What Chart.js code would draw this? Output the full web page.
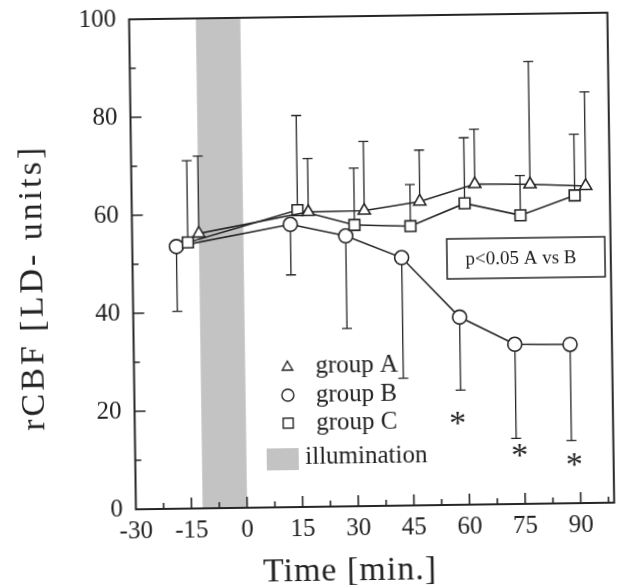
<!DOCTYPE html>
<html>
<head>
<meta charset="utf-8">
<script src="https://cdn.jsdelivr.net/npm/chart.js@4.4.0/dist/chart.umd.min.js"></script>
<style>
  html, body { margin: 0; padding: 0; background: #fff; overflow: hidden; }
  #wrap { width: 620px; height: 585px; }
  /* the scanned figure is slightly tilted */
  #rcbf { transform: rotate(-0.8deg); transform-origin: 372px 262px; }
</style>
</head>
<body>
<div id="wrap"><canvas id="rcbf" width="620" height="585"></canvas></div>
<script>
// values (time in min., rCBF in LD units)
const groupATime  = [-12, 17.6, 32.7, 47.7, 62.6, 77.5, 92.5];
const groupAMean  = [56.1, 60.2, 60.3, 62.0, 65.4, 65.2, 64.7];
const groupAUpper = [71.9, 71.1, 74.4, 72.5, 76.6, 90.3, 83.9];

const groupBTime  = [-18.1, 12.7, 27.6, 42.6, 58.0, 72.8, 87.7];
const groupBMean  = [53.5, 57.7, 55.2, 50.6, 38.3, 32.6, 32.4];
const groupBLower = [40.3, 47.4, 36.3, 26.0, 23.4, 13.4, 12.8];

const groupCTime  = [-15, 14.7, 30, 45.1, 59.8, 74.8, 89.5];
const groupCMean  = [54.3, 60.6, 57.4, 57.0, 61.5, 58.9, 62.8];
const groupCUpper = [71.0, 79.9, 69.0, 65.5, 74.9, 67.0, 75.3];

// significance marks (p<0.05 A vs B)
const sigTime  = [57.1, 73.7, 88.4];
const sigLevel = [17.6, 10.9, 8.9];

const illumination = [-12, 0];

const xTicks = [-30, -15, 0, 15, 30, 45, 60, 75, 90];
const yTicks = [0, 20, 40, 60, 80, 100];

const ink = '#262626';
const textInk = '#222';
const bandGrey = '#c3c3c3';
const serif = '"Liberation Serif", "Times New Roman", serif';

function triangle(ctx, cx, cy, r) {
  ctx.beginPath();
  ctx.moveTo(cx, cy - r);
  ctx.lineTo(cx + r * 0.866, cy + r / 2);
  ctx.lineTo(cx - r * 0.866, cy + r / 2);
  ctx.closePath();
  ctx.stroke();
}

const decor = {
  id: 'decor',
  beforeDatasetsDraw(chart) {
    const {ctx, chartArea: a, scales: {x, y}} = chart;
    ctx.save();
    // illumination band
    const b0 = x.getPixelForValue(illumination[0]);
    const b1 = x.getPixelForValue(illumination[1]);
    ctx.fillStyle = bandGrey;
    ctx.fillRect(b0, a.top, b1 - b0, a.bottom - a.top);

    // one-sided error bars
    ctx.strokeStyle = ink;
    ctx.lineWidth = 1.3;
    const bars = (times, from, to) => times.forEach((t, i) => {
      const px = x.getPixelForValue(t);
      const p0 = y.getPixelForValue(from[i]);
      const p1 = y.getPixelForValue(to[i]);
      ctx.beginPath();
      ctx.moveTo(px, p0); ctx.lineTo(px, p1);
      ctx.moveTo(px - 5, p1); ctx.lineTo(px + 5, p1);
      ctx.stroke();
    });
    bars(groupATime, groupAMean, groupAUpper);
    bars(groupCTime, groupCMean, groupCUpper);
    bars(groupBTime, groupBMean, groupBLower);
    ctx.restore();
  },
  afterDatasetsDraw(chart) {
    const {ctx, chartArea: a, scales: {x, y}} = chart;
    ctx.save();
    ctx.strokeStyle = ink;

    // frame
    ctx.lineWidth = 2;
    ctx.strokeRect(a.left, a.top, a.right - a.left, a.bottom - a.top);

    // inward tick marks, major + minor
    ctx.lineWidth = 1.6;
    ctx.beginPath();
    x.ticks.forEach((tk, i) => {
      const px = x.getPixelForValue(tk.value);
      if (i > 0) { ctx.moveTo(px, a.bottom); ctx.lineTo(px, a.bottom - 11); }
      const pm = x.getPixelForValue(tk.value + 7.5);
      if (pm < a.right - 2) { ctx.moveTo(pm, a.bottom); ctx.lineTo(pm, a.bottom - 6); }
    });
    y.ticks.forEach((tk, i) => {
      const py = y.getPixelForValue(tk.value);
      if (i > 0 && tk.value < 100) { ctx.moveTo(a.left, py); ctx.lineTo(a.left + 11, py); }
      if (tk.value < 100) {
        const pm = y.getPixelForValue(tk.value + 10);
        ctx.moveTo(a.left, pm); ctx.lineTo(a.left + 6, pm);
      }
    });
    ctx.stroke();

    // asterisks
    ctx.fillStyle = textInk;
    ctx.font = '34px ' + serif;
    ctx.textAlign = 'center';
    ctx.textBaseline = 'alphabetic';
    const m = ctx.measureText('*');
    const mid = (m.actualBoundingBoxAscent - m.actualBoundingBoxDescent) / 2;
    sigTime.forEach((t, i) => {
      ctx.fillText('*', x.getPixelForValue(t), y.getPixelForValue(sigLevel[i]) + mid);
    });

    // p-value box
    ctx.lineWidth = 1.5;
    ctx.strokeRect(a.left + 314.5, a.top + 224, 158, 40);
    ctx.font = '19px ' + serif;
    ctx.fillText('p<0.05 A vs B', a.left + 388.5, a.top + 250);

    // legend
    const sx = a.left + 153.5;
    ctx.lineWidth = 1.4;
    triangle(ctx, sx, a.top + 350, 6);
    ctx.beginPath(); ctx.arc(sx, a.top + 378, 6, 0, Math.PI * 2); ctx.stroke();
    ctx.strokeRect(sx - 5, a.top + 401, 10, 10);
    ctx.fillStyle = bandGrey;
    ctx.fillRect(a.left + 131.5, a.top + 431, 32, 22);
    ctx.fillStyle = textInk;
    ctx.textAlign = 'left';
    ctx.font = '25px ' + serif;
    ctx.fillText('group A', a.left + 181.5, a.top + 356);
    ctx.fillText('group B', a.left + 181.5, a.top + 385);
    ctx.fillText('group C', a.left + 181.5, a.top + 413);
    ctx.fillText('illumination', a.left + 170, a.top + 447);

    // axis titles
    ctx.textAlign = 'center';
    ctx.font = '34px ' + serif;
    ctx.letterSpacing = '1px';
    ctx.fillText('Time [min.]', 345.7, 579.7);
    ctx.save();
    ctx.translate(42, 283);
    ctx.rotate(-Math.PI / 2);
    ctx.letterSpacing = '3px';
    ctx.fillText('rCBF [LD- units]', 0, 0);
    ctx.restore();
    ctx.restore();
  }
};

function series(label, times, values, style, radius) {
  return {
    label,
    data: times.map((t, i) => ({x: t, y: values[i]})),
    showLine: true,
    borderColor: ink,
    borderWidth: 1.6,
    pointStyle: style,
    pointRadius: radius,
    pointHoverRadius: radius,
    pointBackgroundColor: '#fff',
    pointBorderColor: ink,
    pointBorderWidth: 1.6
  };
}

new Chart(document.getElementById('rcbf'), {
  type: 'scatter',
  data: {
    datasets: [
      series('group A', groupATime, groupAMean, 'triangle', 7),
      series('group C', groupCTime, groupCMean, 'rect', 7.6),
      series('group B', groupBTime, groupBMean, 'circle', 7)
    ]
  },
  options: {
    responsive: false,
    animation: false,
    layout: {padding: {left: 0, right: 4.4, top: 16, bottom: 0}},
    plugins: {legend: {display: false}, tooltip: {enabled: false}},
    scales: {
      x: {
        type: 'linear',
        min: -30,
        max: 99,
        grid: {display: false, drawTicks: false},
        border: {display: false},
        afterBuildTicks: s => { s.ticks = xTicks.map(v => ({value: v})); },
        afterFit: s => { s.height = 79; s.paddingLeft = 0; s.paddingRight = 0; },
        ticks: {
          padding: 7,
          autoSkip: false,
          maxRotation: 0,
          color: textInk,
          font: {family: serif, size: 25}
        }
      },
      y: {
        min: 0,
        max: 100,
        grid: {display: false, drawTicks: false},
        border: {display: false},
        afterBuildTicks: s => { s.ticks = yTicks.map(v => ({value: v})); },
        afterFit: s => { s.width = 132.5; s.paddingTop = 0; s.paddingBottom = 0; },
        ticks: {
          padding: 13,
          color: textInk,
          font: {family: serif, size: 25}
        }
      }
    }
  },
  plugins: [decor]
});
</script>
</body>
</html>
